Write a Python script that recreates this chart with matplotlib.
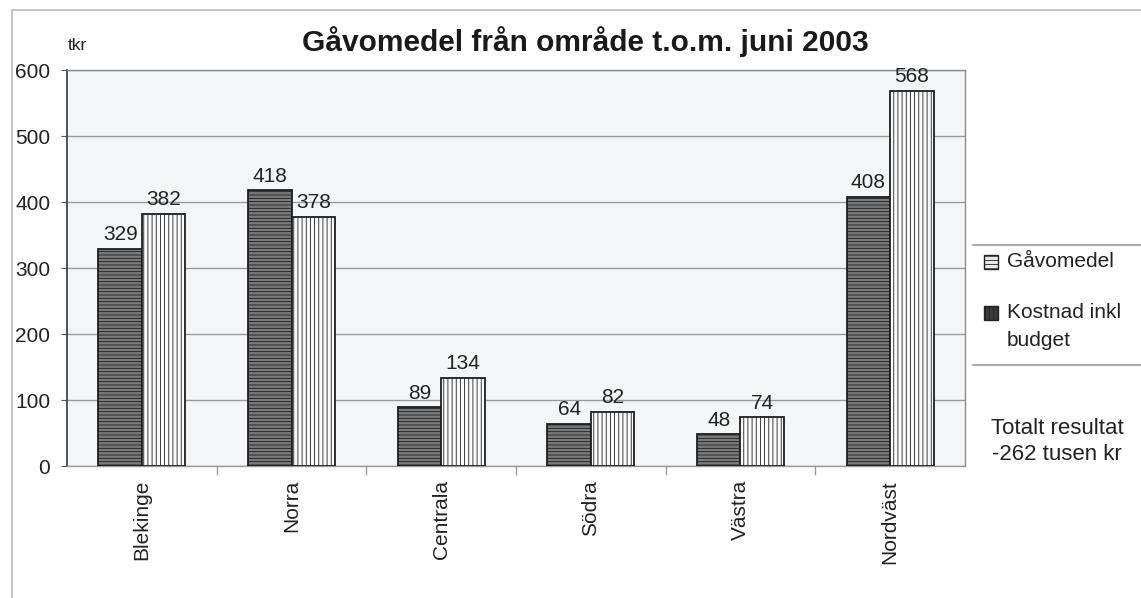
import matplotlib
matplotlib.use("Agg")
import matplotlib.pyplot as plt
from matplotlib.patches import Rectangle
from matplotlib.lines import Line2D
import numpy as np

categories = ["Blekinge", "Norra", "Centrala", "Södra", "Västra", "Nordväst"]
gavomedel = [329, 418, 89, 64, 48, 408]
kostnad = [382, 378, 134, 82, 74, 568]
yticks = [0, 100, 200, 300, 400, 500, 600]

plt.rcParams['font.family'] = ['Liberation Sans', 'DejaVu Sans']
plt.rcParams['hatch.linewidth'] = 0.6

W, H = 1141, 598
fig = plt.figure(figsize=(W / 100, H / 100), dpi=100)
ax = fig.add_axes([67 / W, 1 - 466 / H, (965 - 67) / W, (466 - 70) / H])

x = np.arange(len(categories))
bw = 0.29
plt.rcParams['hatch.color'] = '#5c5c5c'
ax.bar(x - bw / 2, gavomedel, bw, facecolor='#7a7a7a', edgecolor='#1e1e1e',
       hatch='-----', linewidth=1.3, zorder=3)
plt.rcParams['hatch.color'] = '#8a8a8a'
ax.bar(x + bw / 2, kostnad, bw, facecolor='#fafafa', edgecolor='#1e1e1e',
       hatch='||||', linewidth=1.3, zorder=3)

fs = 15
for i in range(len(categories)):
    ax.text(x[i] - bw / 2, gavomedel[i] + 7, str(gavomedel[i]), ha='center', va='bottom',
            fontsize=fs, color='#222222')
    ax.text(x[i] + bw / 2, kostnad[i] + 7, str(kostnad[i]), ha='center', va='bottom',
            fontsize=fs, color='#222222')

ax.set_xlim(-0.5, len(categories) - 0.5)
ax.set_ylim(0, 600)
ax.set_yticks(yticks)
ax.set_yticklabels([str(v) for v in yticks], fontsize=fs, color='#222222')
ax.set_xticks(x)
ax.set_xticklabels(categories, rotation=90, fontsize=fs, color='#222222')
ax.tick_params(axis='x', length=0, pad=10)
ax.tick_params(axis='y', length=4, color='#555555', pad=8)
ax.set_facecolor('#f4f5f6')
ax.grid(axis='y', color='#9a9a9a', linewidth=1.0, zorder=0)
ax.set_axisbelow(True)
for s in ['top', 'right']:
    ax.spines[s].set_color('#8a8a8a')
    ax.spines[s].set_linewidth(1.0)
ax.spines['left'].set_color('#444444')
ax.spines['left'].set_linewidth(1.3)
ax.spines['bottom'].set_color('#9a9a9a')
ax.spines['bottom'].set_linewidth(1.0)
for k in range(1, len(categories)):
    ax.plot([k - 0.5, k - 0.5], [0, -12], color='#9a9a9a', lw=1, clip_on=False)

fig.text(585 / W, 1 - 42 / H, "Gåvomedel från område t.o.m. juni 2003", ha='center', va='center',
         fontsize=21.5, fontweight='bold', color='#1a1a1a')
fig.text(68 / W, 1 - 46 / H, "tkr", ha='left', va='center', fontsize=12.5, color='#222222')

# outer frame
fig.add_artist(Line2D([12 / W, 1.0], [1 - 10 / H, 1 - 10 / H], transform=fig.transFigure,
                      color='#bbbbbb', lw=1.2))
fig.add_artist(Line2D([12 / W, 12 / W], [1 - 10 / H, 0], transform=fig.transFigure,
                      color='#bbbbbb', lw=1.2))

# legend box lines
for yy in [245, 365]:
    fig.add_artist(Line2D([973 / W, 1.0], [1 - yy / H, 1 - yy / H], transform=fig.transFigure,
                          color='#999999', lw=1.2))

# legend icons & text
plt.rcParams['hatch.color'] = '#333333'
fig.add_artist(Rectangle((984 / W, 1 - 269 / H), 14 / W, 14 / H, transform=fig.transFigure,
                         facecolor='#e8e8e8', edgecolor='#222222', hatch='----', lw=1))
fig.text(1007 / W, 1 - 262 / H, "Gåvomedel", ha='left', va='center', fontsize=fs, color='#222222')
fig.add_artist(Rectangle((984 / W, 1 - 320 / H), 14 / W, 14 / H, transform=fig.transFigure,
                         facecolor='#3a3a3a', edgecolor='#222222', hatch='||||', lw=1))
fig.text(1007 / W, 1 - 313 / H, "Kostnad inkl", ha='left', va='center', fontsize=fs, color='#222222')
fig.text(1007 / W, 1 - 340 / H, "budget", ha='left', va='center', fontsize=fs, color='#222222')

fig.text(1057 / W, 1 - 428 / H, "Totalt resultat", ha='center', va='center', fontsize=16, color='#222222')
fig.text(1057 / W, 1 - 454 / H, "-262 tusen kr", ha='center', va='center', fontsize=16, color='#222222')

fig.savefig("out.png", dpi=100, facecolor='white')
